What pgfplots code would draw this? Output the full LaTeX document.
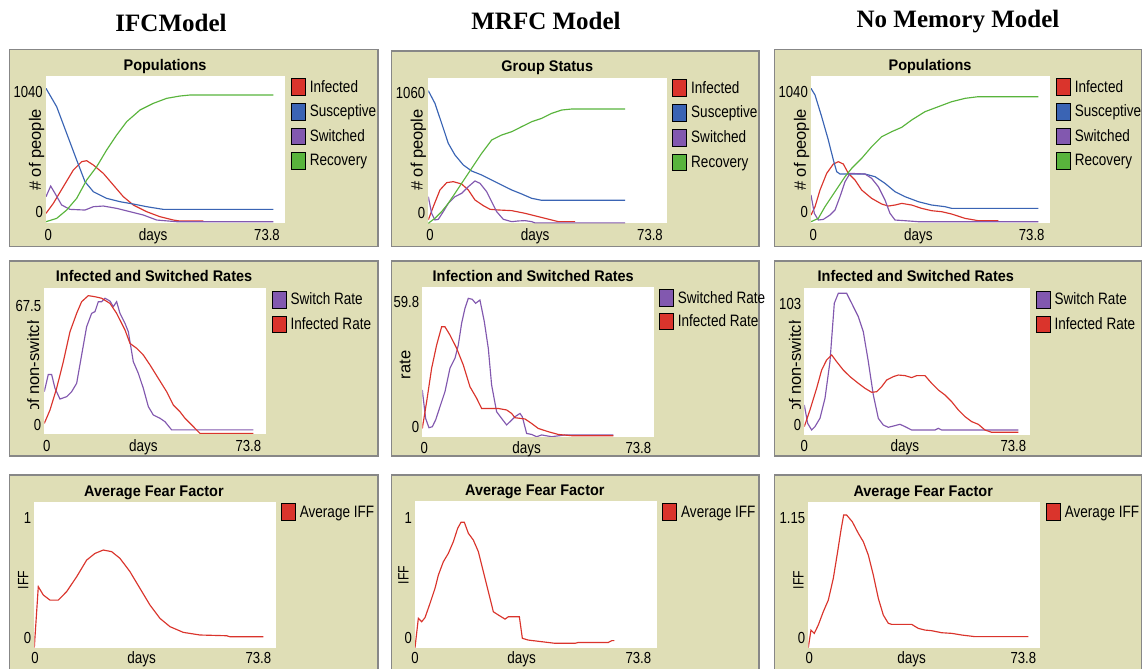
\documentclass[border=0pt]{standalone}
\usepackage{fontspec}
\usepackage{pgfplots}
\pgfplotsset{compat=1.18}
\setmainfont{Liberation Sans}
\newfontfamily\nlfont[FakeStretch=0.82]{Liberation Sans}
\newfontfamily\nlbfont[FakeStretch=0.94]{Liberation Sans}
\newfontfamily\ttlfont{Liberation Serif}
\definecolor{nlred}{RGB}{218,52,44}
\definecolor{nlblue}{RGB}{58,100,180}
\definecolor{nlviolet}{RGB}{130,88,175}
\definecolor{nlgreen}{RGB}{89,180,60}
\definecolor{nlkhaki}{RGB}{223,222,182}
\definecolor{nlframe}{RGB}{135,135,135}
\newcommand{\lgf}{\nlfont\fontsize{16.5bp}{18bp}\selectfont}
\newcommand{\tkf}{\nlfont\fontsize{16bp}{18bp}\selectfont}
\newcommand{\titlef}{\nlbfont\bfseries\fontsize{15.4bp}{17bp}\selectfont}
\newcommand{\ylf}{\fontsize{16.5bp}{18bp}\selectfont}
\newcommand{\ifffont}{\nlfont\fontsize{15bp}{17bp}\selectfont}
\newcommand{\colf}{\ttlfont\bfseries\fontsize{25bp}{28bp}\selectfont}
\pgfplotsset{
 nl/.style={
  scale only axis, anchor=south west,
  xmin=0, xmax=73.8, ymin=0,
  axis background/.style={fill=white},
  axis line style={draw=none},
  major tick length=0pt,
  tick label style={font=\tkf, inner sep=0pt},
  yticklabel style={anchor=east, xshift=-3bp},
  xticklabel style={anchor=base},
  xlabel={days},
  xlabel style={font=\lgf, anchor=base, inner sep=0pt},
  ylabel style={font=\ylf, anchor=center, inner sep=0pt},
  title style={font=\titlef, anchor=base, inner sep=0pt, yshift=-6bp},
  legend style={draw=none, fill=none, inner sep=0pt, outer sep=0pt, anchor=north west, font=\lgf, column sep=4bp, nodes={inner sep=0pt}},
  legend cell align=left,
  legend image code/.code={\draw[line width=0.9bp,##1] (0bp,-8.35bp) rectangle (14bp,8.35bp);},
  clip=true,
 },
 nlR/.style={nlred, line width=1.15bp},
 nlB/.style={nlblue, line width=1.15bp},
 nlV/.style={nlviolet, line width=1.15bp},
 nlG/.style={nlgreen, line width=1.15bp},
}
\begin{document}
\begin{tikzpicture}
\useasboundingbox (0bp,0bp) rectangle (1143bp,-669bp);
\clip (0bp,0bp) rectangle (1143bp,-669bp);
\begin{scope}[x=1bp,y=-1bp]
 \fill[white] (0,0) rectangle (1143,669);
 \foreach \xa/\xb in {9.5/378, 391.5/759, 774.5/1141.5}{
   \foreach \ya/\yb in {261/456, 475/690}{
     \draw[fill=nlkhaki, draw=nlframe, line width=1.5bp] (\xa,\ya) rectangle (\xb,\yb);
   }
 }
 \draw[fill=nlkhaki, draw=nlframe, line width=1.5bp] (9.5,49.5) rectangle (378,246.5);
 \draw[fill=nlkhaki, draw=nlframe, line width=1.5bp] (391.5,51) rectangle (759,246.5);
 \draw[fill=nlkhaki, draw=nlframe, line width=1.5bp] (774.5,49.5) rectangle (1141.5,246.5);
 \node[anchor=base, inner sep=0pt, font=\colf] at (171,31.5) {IFCModel};
 \node[anchor=base, inner sep=0pt, font=\colf] at (546,29.5) {MRFC Model};
 \node[anchor=base, inner sep=0pt, font=\colf] at (958,27.5) {No Memory Model};
\end{scope}

% ---------------- A1 ----------------
\begin{axis}[nl, at={(46bp,-222.7bp)}, width=239bp, height=146.7bp, ymax=1040,
 ytick={78,928.7}, yticklabels={0,1040},
 xtick={0.71,68.24}, xticklabels={0,73.8},
 xticklabel style={yshift=-17.3bp},
 xlabel style={at={(axis description cs:0.448,0)}, yshift=-17.3bp},
 ylabel={\# of people}, ylabel style={at={(axis description cs:-0.039,0.496)}},
 title={Populations}, title style={at={(axis description cs:0.498,1.041)}},
 legend style={at={(axis description cs:1.0251,0.984)}, row sep=7bp}]
\addplot[forget plot, nlR] coordinates {(0,66.2)(2.26,137.1)(5.35,255.3)(8.44,373.5)(11.01,432.5)(12.56,439.6)(14.62,408.9)(17.70,349.8)(20.79,267.1)(23.88,184.4)(26.97,125.3)(31.08,78.0)(35.20,42.5)(39.32,18.9)(41.38,11.8)(48.58,11.8)};
\addplot[forget plot, nlB] coordinates {(0,952.5)(3.29,822.5)(6.38,633.4)(9.47,444.4)(12.04,290.7)(14.62,219.8)(18.73,172.5)(22.85,148.9)(26.97,132.4)(31.08,113.5)(36.23,94.5)(70.2,94.5)};
\addplot[forget plot, nlV] coordinates {(0,184.4)(1.44,260)(2.78,208)(4.84,125.3)(7.41,94.5)(12.04,89.8)(14.62,113.5)(17.70,118.2)(21.82,101.6)(25.94,78)(30.06,54.4)(34.17,18.9)(40.35,7.1)(70.2,7.1)};
\addplot[forget plot, nlG] coordinates {(0,7.1)(3.29,30.7)(6.38,89.8)(9.47,172.5)(12.56,302.5)(15.65,397.1)(18.73,515.3)(21.82,621.6)(24.91,716.2)(29.03,798.9)(33.14,846.2)(37.26,881.6)(41.38,898.2)(44.47,905.3)(70.2,905.3)};
\addlegendimage{draw=black,fill=nlred}\addlegendentry{Infected}
\addlegendimage{draw=black,fill=nlblue}\addlegendentry{Susceptive}
\addlegendimage{draw=black,fill=nlviolet}\addlegendentry{Switched}
\addlegendimage{draw=black,fill=nlgreen}\addlegendentry{Recovery}
\end{axis}

% ---------------- A2 ----------------
\begin{axis}[nl, at={(44.3bp,-434bp)}, width=221.7bp, height=145.7bp, ymax=67.5,
 ytick={4.17,59.44}, yticklabels={0,67.5},
 xtick={0.80,67.91}, xticklabels={0,73.8},
 xticklabel style={yshift=-17.5bp},
 xlabel style={at={(axis description cs:0.447,0)}, yshift=-17.5bp},
 title={Infected and Switched Rates}, title style={at={(axis description cs:0.495,1.045)}},
 legend style={at={(axis description cs:1.0257,0.982)}, row sep=7.2bp}]
\addplot[forget plot, nlV] coordinates {(0,19.6)(1.33,27.6)(2.44,27.6)(3.55,21.2)(5.22,16.2)(7.44,17.3)(9.10,19.6)(10.77,23.5)(12.43,36.6)(14.09,49.7)(15.76,55.9)(16.87,56.7)(17.98,61.3)(19.09,61.3)(20.20,62.9)(21.86,61.6)(22.97,59.0)(24.08,61.3)(25.19,55.9)(26.86,51.3)(27.97,47.4)(29.63,33.5)(31.30,28.1)(32.96,21.2)(34.63,12.7)(36.29,8.8)(38.51,7.3)(40.17,5.7)(42.39,1.9)(69.58,1.9)};
\addplot[forget plot, nlR] coordinates {(0,4.9)(1.89,11.1)(4.11,21.2)(6.33,33.5)(8.55,47.4)(10.77,55.9)(12.43,61.3)(14.65,64.1)(16.87,63.6)(19.09,62.9)(21.86,60.5)(24.08,55.9)(26.86,48.2)(28.52,42.0)(30.74,39.7)(32.96,36.6)(35.18,32.0)(37.95,25.8)(40.73,19.6)(42.95,13.4)(45.17,10.3)(46.83,7.3)(49.05,4.2)(51.83,0.3)(69.58,0.3)};
\addlegendimage{draw=black,fill=nlviolet}\addlegendentry{Switch Rate}
\addlegendimage{draw=black,fill=nlred}\addlegendentry{Infected Rate}
\end{axis}

% ---------------- A3 ----------------
\begin{axis}[nl, at={(34.3bp,-647.7bp)}, width=241.7bp, height=146bp, ymax=1,
 ytick={0.064,0.886}, yticklabels={0,1},
 xtick={0.21,68.4}, xticklabels={0,73.8},
 xticklabel style={yshift=-15.3bp},
 xlabel style={at={(axis description cs:0.444,0)}, yshift=-15.3bp},
 ylabel={IFF}, ylabel style={font=\ifffont, at={(axis description cs:-0.0455,0.464)}},
 title={Average Fear Factor}, title style={at={(axis description cs:0.495,1.034)}},
 legend style={at={(axis description cs:1.0207,0.989)}}]
\addplot[forget plot, nlR] coordinates {(0,0)(1.22,0.418)(2.75,0.361)(4.78,0.326)(7.33,0.326)(9.87,0.384)(12.93,0.486)(15.98,0.600)(18.53,0.646)(21.07,0.669)(23.62,0.658)(26.16,0.612)(29.21,0.521)(32.27,0.406)(35.32,0.292)(38.37,0.201)(41.43,0.144)(45.50,0.105)(50.59,0.087)(58.73,0.082)(59.75,0.075)(69.93,0.075)};
\addlegendimage{draw=black,fill=nlred}\addlegendentry{Average IFF}
\end{axis}

% ---------------- B1 ----------------
\begin{axis}[nl, at={(428.3bp,-223.3bp)}, width=238.4bp, height=145.6bp, ymax=1060,
 ytick={72.8,946.4}, yticklabels={0,1060},
 xtick={0.53,68.63}, xticklabels={0,73.8},
 xticklabel style={yshift=-16.7bp},
 xlabel style={at={(axis description cs:0.448,0)}, yshift=-16.7bp},
 ylabel={\# of people}, ylabel style={at={(axis description cs:-0.042,0.503)}},
 title={Group Status}, title style={at={(axis description cs:0.499,1.041)}},
 legend style={at={(axis description cs:1.0235,0.991)}, row sep=7.3bp}]
\addplot[forget plot, nlR] coordinates {(0,24.3)(1.55,121.3)(3.61,242.6)(5.68,295.9)(7.74,303.2)(10.32,286.2)(12.39,242.6)(14.45,169.8)(17.03,128.6)(19.10,101.9)(21.68,97.0)(25.81,92.2)(29.93,72.8)(34.06,48.5)(38.19,24.3)(40.26,12.1)(45.42,12.1)};
\addplot[forget plot, nlB] coordinates {(0,965.4)(2.06,873.2)(4.13,727.7)(6.19,582.1)(8.26,497.2)(10.84,424.5)(13.42,380.8)(16.52,351.7)(19.61,315.3)(22.71,278.9)(25.81,242.6)(28.90,213.5)(32.00,181.9)(35.09,167.4)(60.90,167.4)};
\addplot[forget plot, nlV] coordinates {(0,194.0)(1.03,72.8)(2.06,24.3)(3.10,29.1)(4.64,84.9)(6.19,145.5)(8.26,194.0)(10.32,218.3)(12.39,266.8)(14.45,308.1)(16.00,291.1)(18.06,230.4)(19.61,157.7)(21.16,84.9)(23.22,29.1)(25.81,12.1)(27.87,17.0)(29.93,19.4)(32.00,12.1)(33.03,3)(60.90,3)};
\addplot[forget plot, nlG] coordinates {(0,0)(2.06,36.4)(4.13,84.9)(6.19,145.5)(8.26,218.3)(10.32,291.1)(12.39,363.8)(14.45,436.6)(16.52,509.4)(19.61,606.4)(22.71,642.8)(25.81,667.0)(28.90,703.4)(32.00,739.8)(35.09,764.1)(38.19,800.4)(41.29,824.7)(44.39,832.0)(60.90,832.0)};
\addlegendimage{draw=black,fill=nlred}\addlegendentry{Infected}
\addlegendimage{draw=black,fill=nlblue}\addlegendentry{Susceptive}
\addlegendimage{draw=black,fill=nlviolet}\addlegendentry{Switched}
\addlegendimage{draw=black,fill=nlgreen}\addlegendentry{Recovery}
\end{axis}

% ---------------- B2 ----------------
\begin{axis}[nl, at={(422.3bp,-436.7bp)}, width=232bp, height=149.4bp, ymax=59.8,
 ytick={3.76,54.04}, yticklabels={0,59.8},
 xtick={0.64,68.71}, xticklabels={0,73.8},
 xticklabel style={yshift=-16.3bp},
 xlabel style={at={(axis description cs:0.45,0)}, yshift=-16.3bp},
 ylabel={rate}, ylabel style={at={(axis description cs:-0.0746,0.48)}},
 title={Infection and Switched Rates}, title style={at={(axis description cs:0.478,1.042)}},
 legend style={at={(axis description cs:1.0203,0.986)}, row sep=5.5bp}]
\addplot[forget plot, nlV] coordinates {(0,18.7)(1.06,7.3)(2.12,3.6)(3.18,4.0)(4.24,6.7)(5.62,12.0)(7.21,18.0)(8.80,27.4)(10.39,31.4)(11.45,36.7)(12.51,45.4)(13.57,51.4)(14.63,55.4)(15.90,55.0)(16.96,53.4)(18.34,54.7)(19.72,46.1)(20.99,35.4)(22.05,20.7)(23.64,10.0)(25.24,7.3)(26.83,4.7)(27.89,6.0)(29.48,8.0)(31.07,9.3)(31.81,8.0)(33.19,1.3)(34.78,0.9)(36.37,0)(37.96,0.7)(41.14,0)(45.38,0.7)(60.75,0.7)};
\addplot[forget plot, nlR] coordinates {(0,3.3)(1.38,14.0)(2.97,27.4)(4.56,36.7)(6.15,44.0)(7.21,44.0)(8.80,40.7)(10.92,35.4)(13.04,28.7)(15.16,20.0)(17.28,15.4)(18.87,11.3)(24.17,11.3)(26.83,10.7)(28.42,9.3)(29.48,7.6)(32.66,7.1)(34.78,5.3)(36.90,3.3)(40.08,2.0)(43.26,0.9)(47.50,0.4)(60.75,0.4)};
\addlegendimage{draw=black,fill=nlviolet}\addlegendentry{Switched Rate}
\addlegendimage{draw=black,fill=nlred}\addlegendentry{Infected Rate}
\end{axis}

% ---------------- B3 ----------------
\begin{axis}[nl, at={(415bp,-647.7bp)}, width=241.7bp, height=146.7bp, ymax=1,
 ytick={0.068,0.882}, yticklabels={0,1},
 xtick={0.0,68.18}, xticklabels={0,73.8},
 xticklabel style={yshift=-15.3bp},
 xlabel style={at={(axis description cs:0.441,0)}, yshift=-15.3bp},
 ylabel={IFF}, ylabel style={font=\ifffont, at={(axis description cs:-0.048,0.496)}},
 title={Average Fear Factor}, title style={at={(axis description cs:0.496,1.041)}},
 legend style={at={(axis description cs:1.0232,0.984)}}]
\addplot[forget plot, nlR] coordinates {(0,0)(1.02,0.200)(2.04,0.177)(3.05,0.205)(4.58,0.302)(6.11,0.405)(7.13,0.495)(8.65,0.586)(10.18,0.643)(11.71,0.723)(13.03,0.814)(14.05,0.855)(15.06,0.855)(16.29,0.780)(17.81,0.734)(19.34,0.655)(20.87,0.518)(22.39,0.382)(23.92,0.245)(25.45,0.223)(27.48,0.195)(28.50,0.211)(31.86,0.211)(32.78,0.064)(34.61,0.052)(38.68,0.041)(42.75,0.030)(48.86,0.030)(49.88,0.036)(59.04,0.036)(60.06,0.048)(60.87,0.048)};
\addlegendimage{draw=black,fill=nlred}\addlegendentry{Average IFF}
\end{axis}

% ---------------- C1 ----------------
\begin{axis}[nl, at={(811bp,-222.7bp)}, width=239bp, height=146.7bp, ymax=1040,
 ytick={78,928.7}, yticklabels={0,1040},
 xtick={0.71,68.15}, xticklabels={0,73.8},
 xticklabel style={yshift=-17.3bp},
 xlabel style={at={(axis description cs:0.449,0)}, yshift=-17.3bp},
 ylabel={\# of people}, ylabel style={at={(axis description cs:-0.039,0.496)}},
 title={Populations}, title style={at={(axis description cs:0.498,1.041)}},
 legend style={at={(axis description cs:1.0251,0.984)}, row sep=7bp}]
\addplot[forget plot, nlR] coordinates {(0,54.4)(1.24,113.5)(2.78,231.6)(4.84,349.8)(6.90,416.0)(8.44,432.5)(9.98,416.0)(11.53,349.8)(13.59,302.5)(15.65,231.6)(18.73,172.5)(21.82,132.4)(23.88,118.2)(25.94,125.3)(28.00,137.1)(31.08,125.3)(34.17,101.6)(37.26,85.1)(40.35,78.0)(43.44,61.5)(47.55,30.7)(51.67,14.2)(57.85,14.2)};
\addplot[forget plot, nlB] coordinates {(0,952.5)(1.24,905.3)(3.29,751.6)(5.35,586.2)(6.90,444.4)(7.93,361.6)(8.95,345.1)(16.67,345.1)(19.76,326.2)(22.85,278.9)(25.94,219.8)(29.03,184.4)(33.14,148.9)(37.26,125.3)(41.38,113.5)(43.44,101.6)(70.2,101.6)};
\addplot[forget plot, nlV] coordinates {(0,196.2)(1.03,66.2)(2.26,18.9)(3.81,23.6)(5.87,54.4)(7.41,89.8)(8.95,184.4)(10.50,290.7)(12.04,349.8)(16.67,345.1)(18.73,314.4)(20.79,255.3)(22.85,160.7)(24.39,66.2)(25.94,18.9)(29.03,14.2)(33.14,7.1)(70.2,7.1)};
\addplot[forget plot, nlG] coordinates {(0,7.1)(2.26,30.7)(4.32,113.5)(6.38,184.4)(8.44,255.3)(10.50,326.2)(12.56,385.3)(15.65,456.2)(18.73,538.9)(21.82,609.8)(24.91,645.3)(28.00,676.0)(31.08,728.0)(35.20,787.1)(39.32,822.5)(43.44,858.0)(47.55,881.6)(51.67,893.4)(70.2,893.4)};
\addlegendimage{draw=black,fill=nlred}\addlegendentry{Infected}
\addlegendimage{draw=black,fill=nlblue}\addlegendentry{Susceptive}
\addlegendimage{draw=black,fill=nlviolet}\addlegendentry{Switched}
\addlegendimage{draw=black,fill=nlgreen}\addlegendentry{Recovery}
\end{axis}

% ---------------- C2 ----------------
\begin{axis}[nl, at={(804.3bp,-435bp)}, width=225.7bp, height=146.7bp, ymax=103,
 ytick={7.02,91.77}, yticklabels={0,103},
 xtick={0.0,68.34}, xticklabels={0,73.8},
 xticklabel style={yshift=-16.5bp},
 xlabel style={at={(axis description cs:0.446,0)}, yshift=-16.5bp},
 title={Infected and Switched Rates}, title style={at={(axis description cs:0.494,1.045)}},
 legend style={at={(axis description cs:1.0253,0.982)}, row sep=7.2bp}]
\addplot[forget plot, nlV] coordinates {(0,21.1)(1.09,8.2)(2.40,3.5)(3.49,5.9)(5.12,11.7)(6.76,25.7)(8.39,51.5)(9.81,92.5)(11.12,99.5)(13.84,99.5)(15.48,92.5)(17.66,83.1)(19.29,72.6)(20.93,51.5)(22.57,28.1)(24.20,11.7)(25.84,7.0)(27.47,5.4)(29.65,6.6)(31.29,7.5)(32.92,5.9)(35.10,3.5)(42.73,3.5)(43.82,4.7)(44.91,3.5)(69.99,3.5)};
\addplot[forget plot, nlR] coordinates {(0,5.9)(1.85,17.6)(4.03,32.8)(5.67,45.6)(7.30,52.7)(8.94,56.2)(10.57,51.5)(12.75,45.6)(14.93,41.0)(17.66,36.3)(19.84,32.8)(22.02,30.0)(23.66,30.4)(25.29,33.9)(26.93,38.6)(29.11,41.0)(30.74,42.1)(32.92,41.7)(35.10,40.3)(36.74,41.7)(39.46,41.7)(41.64,36.3)(43.82,31.6)(46.00,28.1)(48.18,23.4)(50.36,17.6)(52.54,12.9)(54.72,9.4)(56.90,7.5)(59.08,3.5)(61.26,1.9)(69.99,1.9)};
\addlegendimage{draw=black,fill=nlviolet}\addlegendentry{Switch Rate}
\addlegendimage{draw=black,fill=nlred}\addlegendentry{Infected Rate}
\end{axis}

% ---------------- C3 ----------------
\begin{axis}[nl, at={(808.3bp,-647.7bp)}, width=231.7bp, height=146bp, ymax=1.15,
 ytick={0.074,1.019}, yticklabels={0,1.15},
 xtick={0.32,68.48}, xticklabels={0,73.8},
 xticklabel style={yshift=-15.3bp},
 xlabel style={at={(axis description cs:0.446,0)}, yshift=-15.3bp},
 ylabel={IFF}, ylabel style={font=\ifffont, at={(axis description cs:-0.043,0.464)}},
 title={Average Fear Factor}, title style={at={(axis description cs:0.496,1.034)}},
 legend style={at={(axis description cs:1.0259,0.989)}}]
\addplot[forget plot, nlR] coordinates {(0,0)(0.85,0.139)(1.91,0.113)(3.19,0.179)(4.78,0.284)(6.37,0.375)(7.96,0.546)(9.34,0.756)(10.41,0.927)(11.26,1.045)(12.21,1.045)(14.02,0.992)(15.93,0.901)(17.52,0.835)(19.11,0.730)(20.71,0.572)(22.30,0.389)(23.89,0.257)(25.49,0.192)(26.55,0.184)(32.92,0.184)(35.04,0.152)(37.17,0.139)(39.29,0.134)(42.48,0.118)(45.66,0.113)(48.85,0.100)(53.10,0.087)(70.09,0.087)};
\addlegendimage{draw=black,fill=nlred}\addlegendentry{Average IFF}
\end{axis}

% clipped y labels of the rate panels
\begin{scope}[x=1bp,y=-1bp]
 \begin{scope}
  \clip (24,320) rectangle (44,408);
  \node[rotate=90, inner sep=0pt, font=\ylf] at (33.3,362) {\# of non-switched};
 \end{scope}
 \begin{scope}
  \clip (786,320) rectangle (806,408);
  \node[rotate=90, inner sep=0pt, font=\ylf] at (795,362) {\# of non-switched};
 \end{scope}
\end{scope}
\end{tikzpicture}
\end{document}
